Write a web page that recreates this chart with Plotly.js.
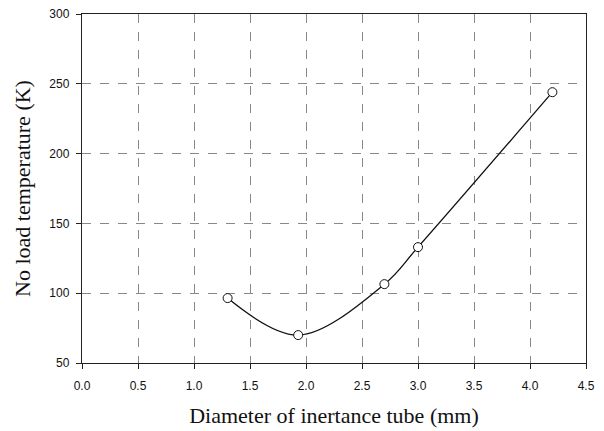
<!DOCTYPE html>
<html>
<head>
<meta charset="utf-8">
<script src="https://cdn.plot.ly/plotly-3.0.1.min.js"></script>
<style>html,body{margin:0;padding:0;background:#fff;}#chart{width:604px;height:431px;}</style>
</head>
<body>
<div id="chart"></div>
<script>
const diameterMm = [1.30, 1.93, 2.70, 3.00, 4.20];
const noLoadTempK = [96.5, 70, 106.5, 133, 244];
const xTickVals = [0, 0.5, 1, 1.5, 2, 2.5, 3, 3.5, 4, 4.5];
const xTickText = ["0.0", "0.5", "1.0", "1.5", "2.0", "2.5", "3.0", "3.5", "4.0", "4.5"];
const yTickVals = [50, 100, 150, 200, 250, 300];

const trace = {
  x: diameterMm,
  y: noLoadTempK,
  mode: 'lines+markers',
  type: 'scatter',
  line: {shape: 'spline', smoothing: 1, color: '#111', width: 1.3},
  marker: {symbol: 'circle', size: 9, color: '#fff', line: {color: '#111', width: 1}},
  hoverinfo: 'none'
};

const tickFont = {family: 'Liberation Sans, Arial, sans-serif', size: 12, color: '#111'};
const titleFont = {family: 'Liberation Serif, Times New Roman, serif', size: 22, color: '#111'};

const layout = {
  width: 604, height: 431,
  margin: {l: 82, r: 18, t: 14, b: 68},
  paper_bgcolor: '#fff', plot_bgcolor: '#fff',
  showlegend: false,
  xaxis: {
    range: [0, 4.5],
    tickvals: xTickVals, ticktext: xTickText,
    ticks: 'outside', ticklen: 5, tickcolor: '#222',
    ticklabelstandoff: 6,
    showline: true, linecolor: '#222', linewidth: 1.2, mirror: true,
    showgrid: true, gridcolor: '#888', gridwidth: 1, griddash: 'dash',
    zeroline: false,
    tickfont: tickFont,
    title: {text: 'Diameter of inertance tube (mm)', font: titleFont, standoff: 16}
  },
  yaxis: {
    range: [50, 300],
    tickvals: yTickVals,
    ticks: 'outside', ticklen: 5, tickcolor: '#222',
    ticklabelstandoff: 4,
    showline: true, linecolor: '#222', linewidth: 1.2, mirror: true,
    showgrid: true, gridcolor: '#888', gridwidth: 1, griddash: 'dash',
    zeroline: false,
    tickfont: tickFont,
    title: {text: 'No load temperature (K)', font: titleFont, standoff: 12}
  }
};

Plotly.newPlot('chart', [trace], layout, {displayModeBar: false, staticPlot: true});
</script>
</body>
</html>
